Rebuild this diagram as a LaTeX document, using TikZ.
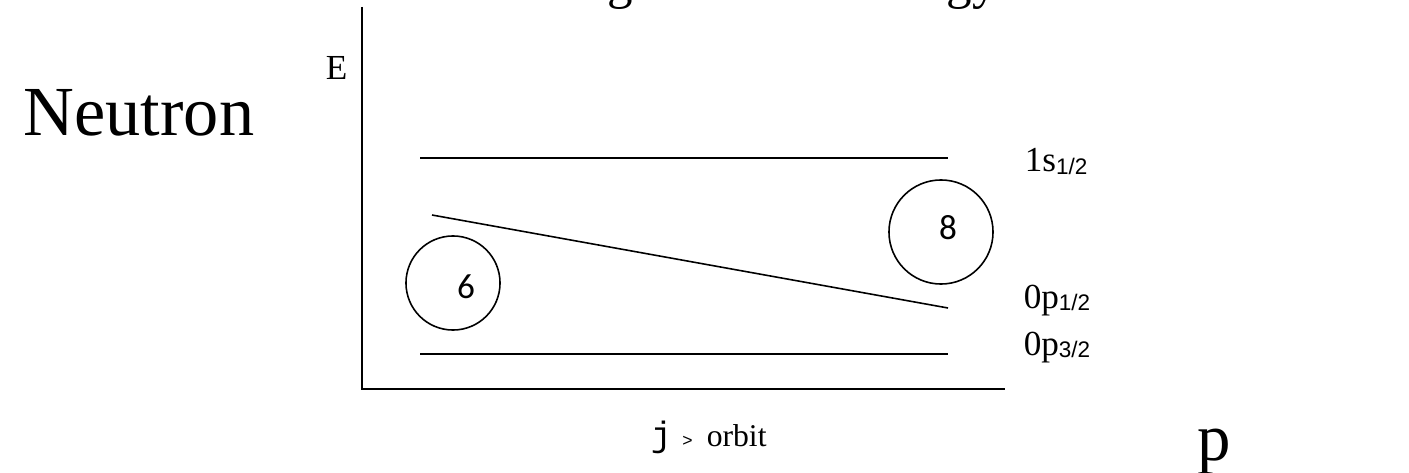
\documentclass[tikz,border=0pt]{standalone}
\usepackage{fontspec}
\setmainfont{Liberation Serif}
\newfontfamily\sublabelfont{Liberation Sans}
\newfontfamily\numfont{Carlito}
\newfontfamily\jmono{Liberation Mono}
\usetikzlibrary{positioning}

\newcommand{\orbsub}[1]{\raisebox{-0.8pt}{\fontsize{6.4}{7}\selectfont\sublabelfont #1}}

\begin{document}
\begin{tikzpicture}[
    x=0.01cm, y=-0.01cm,
    line width=0.45pt,
    level_line/.style={draw=black, line width=0.45pt},
    level_label/.style={anchor=base west, inner sep=0pt, font=\fontsize{10}{12}\selectfont},
    shell_circle/.style={
        circle, draw=black, line width=0.45pt, inner sep=0pt
    },
    shell_number/.style={inner sep=0pt, font=\fontsize{10}{12}\selectfont\numfont}
]
    \useasboundingbox (0,0) rectangle (1409,473);

    % =========================================================================
    % TITLE (CUT OFF AT TOP) AND SIDE LABELS
    % =========================================================================
    \node [anchor=base west, inner sep=0pt, font=\fontsize{14.5}{17}\selectfont] (title_text) at (539,-1.2) {Single Particle Energy};
    \node [anchor=base west, inner sep=0pt, font=\fontsize{20}{24}\selectfont] (neutron_label) at (23,136) {Neutron};
    \node [anchor=base west, inner sep=0pt, font=\fontsize{19}{23}\selectfont] (p_label) at (1197,460) {p};

    % =========================================================================
    % AXES
    % =========================================================================
    \coordinate (axis_top) at (362,7);
    \coordinate (axis_origin) at (362,389);
    \coordinate (axis_right) at (1005,389);
    \draw [level_line] (axis_top) -- (axis_origin) -- (axis_right);

    \node [anchor=base west, inner sep=0pt, font=\fontsize{10}{12}\selectfont] (energy_label) at (325,80) {E};
    \node [anchor=base west, inner sep=0pt, font=\fontsize{9}{11}\selectfont] (orbit_label) at (650,446)
        {{\fontsize{10}{12}\selectfont\jmono j}\hspace{3pt}{\fontsize{5}{6}\selectfont\sublabelfont >}\hspace{4pt}orbit};

    % =========================================================================
    % SINGLE-PARTICLE LEVELS
    % =========================================================================
    \coordinate (s_left) at (420,158);
    \coordinate (s_right) at (948,158);
    \coordinate (phalf_left) at (432,215);
    \coordinate (phalf_right) at (948,308);
    \coordinate (pthree_left) at (420,354);
    \coordinate (pthree_right) at (948,354);

    \draw [level_line] (s_left) -- (s_right);
    \draw [level_line] (phalf_left) -- (phalf_right);
    \draw [level_line] (pthree_left) -- (pthree_right);

    \node [level_label] (s_label) at (1024,172) {1s\orbsub{1/2}};
    \node [level_label] (phalf_label) at (1023,308) {0p\orbsub{1/2}};
    \node [level_label] (pthree_label) at (1023,355) {0p\orbsub{3/2}};

    % =========================================================================
    % SHELL CLOSURES
    % =========================================================================
    \node [shell_circle, minimum size=0.94cm] (shell_six) at (453,283) {};
    \node [shell_number] (shell_six_num) at (466,287) {6};

    \node [shell_circle, minimum size=1.04cm] (shell_eight) at (941,232) {};
    \node [shell_number] (shell_eight_num) at (948,228) {8};

\end{tikzpicture}
\end{document}
